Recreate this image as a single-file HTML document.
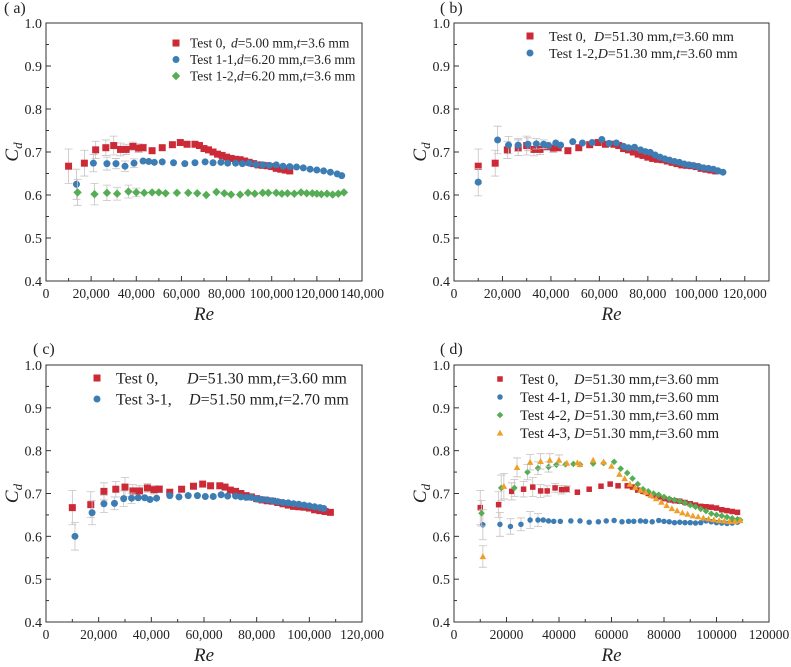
<!DOCTYPE html>
<html><head><meta charset="utf-8"><style>
html,body{margin:0;padding:0;background:#fff;}
svg{display:block;font-family:"Liberation Serif",serif;}
</style></head><body>
<svg id="fig" width="791" height="667" viewBox="0 0 791 667" xmlns="http://www.w3.org/2000/svg"></svg>
<script>
// ---- shared data ----
const t0X=[10000,17000,22000,26500,30000,33000,35500,38500,41000,43000,47000,51500,56000,59500,62500,66000,68000,70000,72000,74000,76000,78000,80000,82000,84000,86000,88000,90000,92000,94000,96000,98000,100000,102000,104000,106000,108000];
const t0Y=[.667,.674,.705,.710,.715,.706,.706,.713,.709,.710,.703,.710,.717,.722,.718,.718,.715,.708,.705,.700,.695,.692,.688,.685,.683,.682,.679,.676,.673,.670,.669,.668,.666,.662,.660,.658,.656];
const t0E=[.04,.03,.02,.018,.022,.015,.012,.01,.01,.008];
// panel a
const a11X=[13500,21000,27000,31000,35000,39000,43000,45500,48000,51500,56500,61500,66000,70500,74000,77500,80500,84000,87000,90000,93000,96000,99000,102000,105000,108000,111000,114000,117000,120000,123000,126000,129000,131000];
const a11Y=[.625,.674,.673,.673,.667,.674,.679,.678,.676,.677,.675,.673,.675,.677,.675,.676,.674,.674,.673,.674,.671,.670,.669,.670,.667,.666,.665,.663,.660,.658,.656,.653,.649,.645];
const a11E=[.035,.02,.015,.012,.012,.01];
const a12X=[14000,21500,27000,31500,36500,40000,43500,47000,50000,53000,58000,63000,67000,71000,75500,79000,82000,86000,89500,92500,96000,98500,102000,104500,107000,110000,113000,115500,118000,120000,122000,124500,127000,129500,132000];
const a12Y=[.606,.602,.605,.603,.608,.606,.605,.606,.606,.604,.605,.605,.604,.600,.607,.604,.601,.601,.605,.603,.605,.605,.605,.603,.604,.603,.606,.604,.604,.603,.602,.603,.601,.603,.606];
const a12E=[.03,.025,.018,.015,.015,.01];
// panel b
const b12X=[10000,18000,22500,26500,30500,34000,37000,39000,42000,44000,49000,53000,57000,61000,64000,67000,70000,72000,74500,77000,79000,81000,83000,85000,87000,89000,91000,93000,95000,97000,99000,101000,103000,105000,107000,109000,111000];
const b12Y=[.630,.728,.716,.716,.718,.719,.718,.715,.721,.716,.724,.721,.722,.729,.720,.721,.713,.710,.711,.705,.701,.699,.693,.688,.684,.681,.678,.676,.672,.670,.668,.666,.663,.662,.660,.656,.653];
const b12E=[.032,.032,.02,.015,.015,.012,.01];
// panel c
const c31X=[11000,17500,22000,26000,29500,32500,35000,37500,39500,42000,47000,50500,54000,57500,60500,63500,66500,69000,72000,74000,76000,78000,80000,82000,84000,86000,88000,90000,92000,94000,96000,98000,100000,102000,104000,105500];
const c31Y=[.600,.655,.676,.677,.688,.689,.690,.690,.686,.689,.695,.692,.695,.695,.693,.693,.697,.694,.694,.692,.691,.691,.687,.686,.685,.683,.681,.679,.678,.676,.675,.673,.671,.669,.667,.665];
const c31E=[.032,.028,.02,.015,.018,.012];
// panel d
const d41X=[11000,17500,21500,25500,29000,32000,34000,36000,38000,40500,44500,48000,51500,55000,58000,61000,64000,66500,68500,71000,73000,75500,78000,80000,82000,84000,86000,88000,90000,92000,94000,96000,98000,100000,102000,104000,106000,108000];
const d41Y=[.627,.628,.623,.628,.638,.638,.638,.636,.635,.635,.636,.636,.633,.634,.636,.637,.634,.635,.635,.636,.635,.634,.637,.635,.634,.632,.633,.632,.632,.631,.632,.636,.634,.632,.631,.630,.631,.633];
const d41E=[.035,.028,.018,.015,.02,.015];
const d42X=[10500,18000,23000,28000,32000,36000,39000,42500,45500,48000,53000,57000,61000,63500,66000,68000,70000,72000,74000,76000,78000,80000,82000,84000,86000,88000,90000,92000,94000,96000,98000,100000,102000,104000,106000,108000,109000];
const d42Y=[.654,.713,.713,.750,.759,.762,.767,.768,.769,.768,.770,.771,.774,.758,.748,.735,.722,.710,.705,.700,.697,.692,.688,.685,.682,.678,.673,.669,.664,.659,.653,.650,.648,.645,.642,.640,.638];
const d42E=[.03,.03,.02,.018,.015,.012];
const d43X=[11000,19000,24000,29000,33000,36500,40000,43000,47000,48000,53000,57000,60000,63000,65000,67000,69000,71000,73000,75000,77000,79000,81000,83000,85000,87000,89000,91000,93000,95000,97000,99000,101000,103000,105000,107000,109000];
const d43Y=[.553,.717,.761,.773,.775,.778,.778,.771,.772,.768,.778,.774,.764,.745,.735,.722,.714,.708,.703,.696,.688,.680,.672,.665,.660,.655,.652,.648,.646,.643,.641,.639,.637,.636,.635,.635,.637];
const d43E=[.025,.03,.022,.018,.018,.015,.012];
const yTicks=[0.4,0.5,0.6,0.7,0.8,0.9,1.0];
const xTicksA=[0,20000,40000,60000,80000,100000,120000,140000];
const xTicksBC=[0,20000,40000,60000,80000,100000,120000];

const NS="http://www.w3.org/2000/svg";
const svg=document.getElementById('fig');
const RED="#cc2a36",BLUE="#3d7db3",GREEN="#55ad55",ORANGE="#f0a02a";
function mk(tag,attrs,parent){const e=document.createElementNS(NS,tag);for(const k in attrs)e.setAttribute(k,attrs[k]);(parent||svg).appendChild(e);return e;}
function fmt(v,comma){return comma?v.toLocaleString('en-US'):String(v);}

function marker(g,shape,cx,cy,col,s){
  let e;
  if(shape==='sq'){e=mk('rect',{x:cx-s/2,y:cy-s/2,width:s,height:s,fill:col},g);}
  else if(shape==='ci'){e=mk('circle',{cx:cx,cy:cy,r:s/2,fill:col},g);}
  else if(shape==='di'){const r=s*0.6;e=mk('polygon',{points:`${cx},${cy-r} ${cx+r},${cy} ${cx},${cy+r} ${cx-r},${cy}`,fill:col},g);}
  else {const r=s*0.6;e=mk('polygon',{points:`${cx},${cy-r} ${cx+r},${cy+r*0.8} ${cx-r},${cy+r*0.8}`,fill:col},g);}
  return e;
}

function panel(p){
  const g=mk('g',{});
  
  
  const sx=v=>p.L+(v/p.xmax)*(p.R-p.L);
  const sy=v=>p.B-(v-0.4)/0.6*(p.B-p.T);
  for(let v=0.4;v<=1.0001;v+=0.05){const y=sy(v);const major=Math.abs(v*10-Math.round(v*10))<0.01;
    mk('line',{x1:p.L,x2:p.L+(major?5:3),y1:y,y2:y,stroke:'#333','stroke-width':1},g);}
  yTicks.forEach(v=>{const t=mk('text',{x:p.L-4,y:sy(v)+5,'text-anchor':'end','font-size':14,fill:'#222'},g);t.textContent=v.toFixed(1);
    });
  for(let v=0;v<=p.xmax;v+=10000){const x=sx(v);const major=v%20000===0;
    mk('line',{x1:x,x2:x,y1:p.B,y2:p.B-(major?5:3),stroke:'#333','stroke-width':1},g);}
  p.xt.forEach(v=>{const t=mk('text',{x:sx(v),y:p.B+17,'text-anchor':'middle','font-size':13.5,fill:'#222'},g);t.textContent=fmt(v,p.comma);
    });
  const fr=mk('rect',{x:p.L,y:p.T,width:p.R-p.L,height:p.B-p.T,fill:'none',stroke:'#333','stroke-width':1},g);
  
  p.series.forEach(s=>{
    const sg=mk('g',{},g);
    
    
    s.x.forEach((xv,i)=>{const e=(s.e&&s.e[i])||0;if(e>0){const cx=sx(xv),y1=sy(s.y[i]-e),y2=sy(s.y[i]+e);
      mk('path',{d:`M${cx},${y1}V${y2}M${cx-4},${y1}H${cx+4}M${cx-4},${y2}H${cx+4}`,stroke:'#c8c0c0','stroke-width':0.8,fill:'none'},sg);}});
    s.x.forEach((xv,i)=>{const m=marker(sg,s.shape,sx(xv),sy(s.y[i]),s.col,p.ms);
      });
  });
  p.series.forEach((s,i)=>{
    const ly=p.legY+i*p.legDy;
    const lm=marker(g,s.shape,p.legX,ly,s.col,p.ms);
    
    const t=mk('text',{x:p.legTX,y:ly+p.legF*0.35,'font-size':p.legF,fill:'#222'},g);
    
    t.innerHTML=s.label;
  });
  const pl=mk('text',{x:p.plX,y:p.plY,'font-size':16,fill:'#222'},g);pl.textContent='( '+p.id+')';
  
  const xt=mk('text',{x:(p.L+p.R)/2,y:p.B+39,'text-anchor':'middle','font-size':19,'font-style':'italic',fill:'#222'},g);xt.textContent='Re';
  
  const cy=(p.T+p.B)/2;
  const yt=mk('text',{x:0,y:0,transform:`translate(${p.L-28},${cy}) rotate(-90)`,'text-anchor':'middle','font-size':19,'font-style':'italic',fill:'#222'},g);
  yt.innerHTML='C<tspan font-size="13" dy="4">d</tspan>';
  
}
const I=s=>`<tspan font-style="italic">${s}</tspan>`;
panel({id:'a',L:46,R:362,T:23,B:281,xmax:140000,xt:xTicksA,comma:true,ms:7,plX:4,plY:13,
  legX:176,legY:43,legDy:16.5,legTX:190,legF:13.5,
  series:[{name:'test-0',x:t0X,y:t0Y,e:t0E,shape:'sq',col:RED,label:`Test 0,<tspan x="231">${I('d')}=5.00 mm,${I('t')}=3.6 mm</tspan>`},
          {name:'test-1-1',x:a11X,y:a11Y,e:a11E,shape:'ci',col:BLUE,label:`Test 1-1,${I('d')}=6.20 mm,${I('t')}=3.6 mm`},
          {name:'test-1-2',x:a12X,y:a12Y,e:a12E,shape:'di',col:GREEN,label:`Test 1-2,${I('d')}=6.20 mm,${I('t')}=3.6 mm`}]});
panel({id:'b',L:454,R:769,T:23,B:281,xmax:130000,xt:xTicksBC,comma:true,ms:7,plX:440,plY:13,
  legX:530,legY:36,legDy:17,legTX:549,legF:14,
  series:[{name:'test-0',x:t0X,y:t0Y,e:t0E,shape:'sq',col:RED,label:`Test 0,<tspan x="594">${I('D')}=51.30 mm,${I('t')}=3.60 mm</tspan>`},
          {name:'test-1-2',x:b12X,y:b12Y,e:b12E,shape:'ci',col:BLUE,label:`Test 1-2,${I('D')}=51.30 mm,${I('t')}=3.60 mm`}]});
panel({id:'c',L:46,R:362,T:365,B:622,xmax:120000,xt:xTicksBC,comma:true,ms:7,plX:33,plY:354,
  legX:97,legY:378,legDy:21,legTX:116,legF:16,
  series:[{name:'test-0',x:t0X,y:t0Y,e:t0E,shape:'sq',col:RED,label:`Test 0,<tspan x="187">${I('D')}=51.30 mm,${I('t')}=3.60 mm</tspan>`},
          {name:'test-3-1',x:c31X,y:c31Y,e:c31E,shape:'ci',col:BLUE,label:`Test 3-1,<tspan x="189">${I('D')}=51.50 mm,${I('t')}=2.70 mm</tspan>`}]});
panel({id:'d',L:454,R:769,T:365,B:622,xmax:120000,xt:xTicksBC,comma:false,ms:5.5,plX:440,plY:354,
  legX:500,legY:379,legDy:18,legTX:520,legF:14.5,
  series:[{name:'test-0',x:t0X,y:t0Y,e:t0E,shape:'sq',col:RED,label:`Test 0,<tspan x="574">${I('D')}=51.30 mm,${I('t')}=3.60 mm</tspan>`},
          {name:'test-4-1',x:d41X,y:d41Y,e:d41E,shape:'ci',col:BLUE,label:`Test 4-1, ${I('D')}=51.30 mm,${I('t')}=3.60 mm`},
          {name:'test-4-2',x:d42X,y:d42Y,e:d42E,shape:'di',col:GREEN,label:`Test 4-2, ${I('D')}=51.30 mm,${I('t')}=3.60 mm`},
          {name:'test-4-3',x:d43X,y:d43Y,e:d43E,shape:'tr',col:ORANGE,label:`Test 4-3, ${I('D')}=51.30 mm,${I('t')}=3.60 mm`}]});
</script>
</body></html>
